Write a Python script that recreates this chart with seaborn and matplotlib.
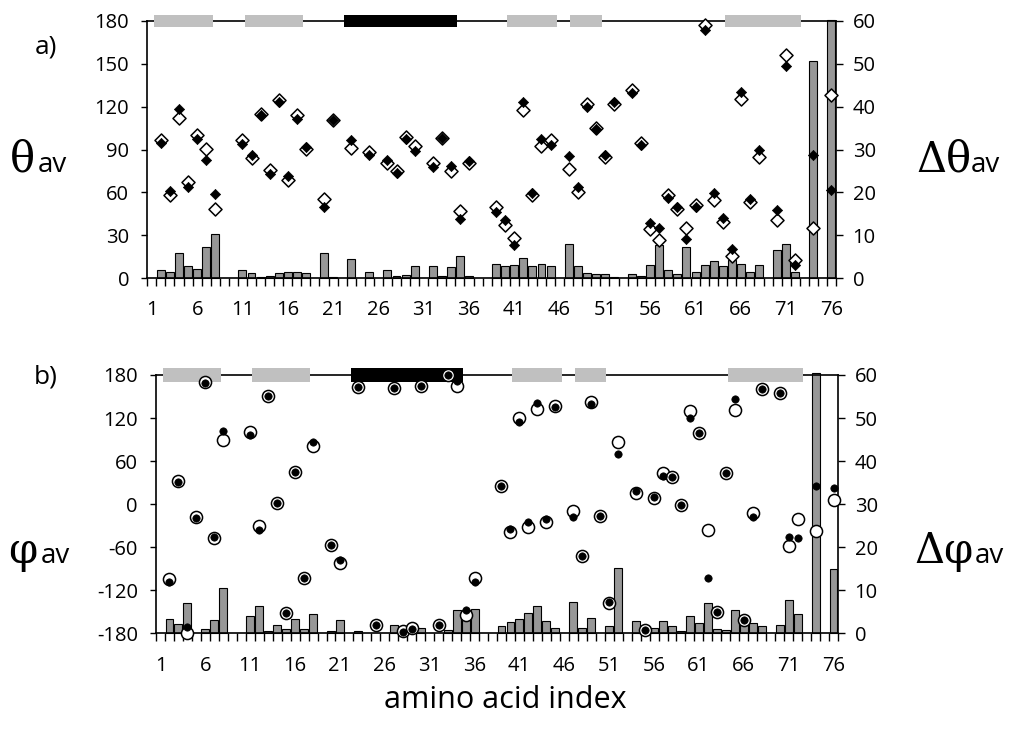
import numpy as np
import pandas as pd
import matplotlib
matplotlib.use("Agg")
import matplotlib.pyplot as plt
import seaborn as sns

nan = np.nan

# ---------------- data ----------------
residues = list(range(1, 77))

theta_open = [nan, 96.9, 58.4, 112.3, 67.2, 99.9, 90.6, 48.6, nan, nan,
              96.4, 83.8, 115.1, 75.4, 124.4, 68.4, 114.4, 90.1, nan, 55.6,
              110.9, nan, 91.3, nan, 88.3, nan, 80.5, 74.7, 98.8, 92.2,
              nan, 80.5, 97.8, 74.9, 46.7, 80.8, nan, nan, 49.7, 37.4,
              28.3, 117.9, 57.9, 92.5, 96.9, nan, 76.6, 60.2, 121.6, 105.0,
              84.8, 121.6, nan, 131.4, 94.6, 34.6, 26.9, 57.9, 48.6, 35.3,
              51.4, 177.4, 54.9, 39.2, 15.2, 125.6, 53.2, 84.8, nan, 40.9,
              156.0, 12.4, nan, 35.0, nan, 128.0]

theta_filled = [nan, 94.6, 61.0, 118.4, 63.7, 97.6, 82.9, 59.1, nan, nan,
                93.6, 85.9, 114.4, 73.1, 123.3, 71.2, 111.6, 91.8, nan, 49.5,
                110.4, nan, 96.4, nan, 85.9, nan, 82.9, 73.5, 97.6, 88.7,
                nan, 77.7, 97.8, 78.4, 41.6, 82.0, nan, nan, 46.2, 40.9,
                23.3, 123.3, 59.5, 97.6, 93.4, nan, 85.2, 63.7, 119.8, 104.1,
                85.9, 123.3, nan, 129.8, 92.9, 38.5, 35.3, 56.0, 49.7, 27.6,
                49.7, 173.9, 59.5, 42.0, 20.1, 130.3, 55.1, 89.4, nan, 47.9,
                148.3, 8.9, nan, 85.9, nan, 61.9]

delta_theta = [nan, 1.8, 1.4, 5.9, 2.8, 2.2, 7.2, 10.35, nan, nan,
               1.8, 1.25, 0.3, 0.5, 1.25, 1.4, 1.4, 1.25, nan, 5.9,
               0.3, nan, 4.4, nan, 1.4, nan, 1.8, 0.5, 0.8, 2.8,
               nan, 2.8, 0.5, 2.5, 5.1, 0.5, nan, nan, 3.3, 2.8,
               3.1, 4.7, 2.8, 3.3, 2.8, nan, 7.9, 2.8, 1.2, 0.9,
               0.9, 0.3, nan, 0.9, 0.5, 3.1, 7.8, 1.9, 0.9, 7.2,
               1.4, 3.1, 4.0, 2.8, 4.1, 3.3, 1.4, 3.1, nan, 6.6,
               7.9, 1.4, nan, 50.6, nan, 60.3]

phi_open = [nan, -104.7, 32.3, -179.1, -17.4, 170.7, -47.6, 89.4, nan, nan,
            101.0, -30.4, 150.7, 1.2, -152.0, 45.3, -102.4, 81.5, nan, -56.9,
            -81.5, nan, 163.7, nan, -168.1, nan, 162.4, -176.7, -173.0, 164.7,
            nan, -168.1, 180.0, 164.7, -154.4, -102.4, nan, nan, 25.8, -38.3,
            119.6, -31.3, 132.6, -25.3, 136.8, nan, -9.5, -71.7, 142.8, -15.9,
            -138.1, 87.1, nan, 16.0, -175.4, 8.1, 44.0, 38.3, -1.1, 129.8,
            98.7, -36.0, -150.5, 44.0, 131.2, -161.1, -12.7, 160.0, nan, 155.4,
            -58.3, -20.6, nan, -37.4, nan, 5.8]

phi_filled = [nan, -108.9, 30.5, -170.7, -18.8, 169.3, -46.2, 102.4, nan, nan,
              96.4, -36.0, 150.7, 1.2, -152.0, 45.3, -102.4, 87.1, nan, -56.9,
              -77.8, nan, 163.7, nan, -168.1, nan, 162.4, -177.7, -174.4, 164.7,
              nan, -168.1, 180.0, 172.0, -147.0, -108.9, nan, nan, 25.8, -34.6,
              114.0, -25.3, 140.5, -20.6, 134.9, nan, -17.4, -71.7, 139.1, -15.9,
              -136.8, 69.9, nan, 18.8, -175.4, 9.5, 39.7, 38.3, -1.1, 119.6,
              98.7, -103.4, -150.5, 44.0, 146.5, -161.1, -17.4, 160.0, nan, 155.4,
              -45.3, -47.6, nan, 25.3, nan, 23.0]

delta_phi = [nan, 3.25, 2.2, 7.0, nan, 0.9, 3.1, 10.45, nan, nan,
             4.1, 6.35, 0.6, 1.9, 1.0, 3.25, 1.0, 4.5, nan, 0.6,
             3.1, nan, 0.6, nan, nan, nan, 1.9, nan, nan, 1.3,
             nan, nan, 0.8, 5.4, 4.3, 5.65, nan, nan, 1.7, 2.55,
             3.25, 4.8, 6.35, 2.9, 1.3, nan, 7.35, 1.3, 3.5, nan,
             1.7, 15.25, nan, 2.9, 1.2, 1.3, 2.9, 1.7, 0.6, 4.1,
             2.3, 7.0, 0.9, 0.8, 5.4, 4.1, 2.3, 1.7, nan, 1.9,
             7.7, 4.4, nan, 60.5, nan, 14.9]

# secondary structure (residue ranges)
strand_ranges = [(1.25, 7.7), (11.25, 17.7), (40.2, 45.7), (47.2, 50.7), (64.2, 72.6)]
helix_ranges = [(22.25, 34.7)]

xtick_labels = [1, 6, 11, 16, 21, 26, 31, 36, 41, 46, 51, 56, 61, 66, 71, 76]
theta_ticks = [0, 30, 60, 90, 120, 150, 180]
phi_ticks = [-180, -120, -60, 0, 60, 120, 180]
delta_ticks = [0, 10, 20, 30, 40, 50, 60]

# ---------------- style ----------------
sns.set_theme(style="white")
plt.rcParams["font.family"] = ["Open Sans", "DejaVu Sans"]
plt.rcParams.update({"text.color": "black", "xtick.color": "black",
                     "ytick.color": "black", "axes.labelcolor": "black",
                     "axes.unicode_minus": False})
TICKFS = 14.5
BAR = "#979797"
STRAND = "#c0c0c0"

W, H = 1009, 731
fig = plt.figure(figsize=(W / 100, H / 100), dpi=100)
fig.patch.set_facecolor("white")

axA = fig.add_axes([147.3 / W, 1 - 278 / H, (836 - 147.3) / W, (278 - 21) / H])
axB = fig.add_axes([156 / W, 1 - 633.3 / H, (838 - 156) / W, (633.3 - 375) / H])


def draw_panel(ax, open_vals, filled_vals, delta, ylim, yticks, marker,
               s_open, s_filled, ss_band):
    ax2 = ax.twinx()
    dfb = pd.DataFrame({"residue": residues, "delta": delta}).dropna()
    sns.barplot(data=dfb, x="residue", y="delta", native_scale=True, width=0.88,
                color=BAR, saturation=1, edgecolor="black", linewidth=0.8,
                errorbar=None, ax=ax2)
    for p in ax2.patches:
        p.set_clip_on(False)
    ax2.set_ylim(0, 60)
    ax2.set_yticks(delta_ticks)
    ax2.set_ylabel("")
    ax2.set_xlabel("")

    dfm = pd.DataFrame({"residue": residues, "open": open_vals, "filled": filled_vals})
    sns.scatterplot(data=dfm, x="residue", y="open", marker=marker, s=s_open,
                    color="white", edgecolor="black", linewidth=1.1, ax=ax,
                    zorder=5, clip_on=False, legend=False)
    sns.scatterplot(data=dfm, x="residue", y="filled", marker=marker, s=s_filled,
                    color="black", edgecolor="black", linewidth=0.5, ax=ax,
                    zorder=6, clip_on=False, legend=False)

    # secondary-structure diagram along the top
    ymin, hgt = ss_band
    ax.broken_barh([(a, b - a) for a, b in strand_ranges], (ymin, hgt),
                   facecolors=STRAND, edgecolor="none", clip_on=False, zorder=4)
    ax.broken_barh([(a, b - a) for a, b in helix_ranges], (ymin, hgt),
                   facecolors="black", edgecolor="none", clip_on=False, zorder=4)

    ax.set_zorder(ax2.get_zorder() + 1)
    ax.patch.set_visible(False)

    ax.set_ylim(*ylim)
    ax.set_yticks(yticks)
    ax.set_xlim(0.5, 76.5)
    ax.set_xticks(np.arange(0.5, 77, 1.0))
    ax.set_xticklabels([])
    ax.set_xticks(xtick_labels, minor=True)
    ax.set_xticklabels([str(v) for v in xtick_labels], minor=True)
    ax.set_xlabel("")
    ax.set_ylabel("")

    ax.tick_params(axis="x", which="major", direction="out", length=5.5,
                   width=1, color="black", bottom=True)
    ax.tick_params(axis="x", which="minor", length=0, pad=16,
                   labelsize=TICKFS, bottom=True, labelcolor="black")
    ax.tick_params(axis="y", direction="out", length=4, width=1, pad=9,
                   labelsize=TICKFS, left=True, colors="black")
    ax2.tick_params(axis="y", direction="out", length=5, width=1, pad=7,
                    labelsize=TICKFS, right=True, colors="black")

    for name, sp in ax.spines.items():
        sp.set_color("black")
        sp.set_linewidth(1.2)
    ax.spines["right"].set_visible(False)
    for name, sp in ax2.spines.items():
        sp.set_visible(name == "right")
        sp.set_color("black")
        sp.set_linewidth(1.2)
    return ax2


draw_panel(axA, theta_open, theta_filled, delta_theta, (0, 180), theta_ticks,
           "D", 44, 27, (175.5, 8.7))
draw_panel(axB, phi_open, phi_filled, delta_phi, (-180, 180), phi_ticks,
           "o", 76, 28, (170.7, 18.6))

# ---------------- labels ----------------
serif = ["DejaVu Serif"]
fig.text(46 / W, 1 - 47 / H, "a)", fontsize=19, ha="center", va="center")
fig.text(46 / W, 1 - 377 / H, "b)", fontsize=19, ha="center", va="center")

fig.text(10 / W, 1 - 172 / H, "\u03b8", fontsize=30, family=serif, ha="left", va="baseline")
fig.text(38 / W, 1 - 172 / H, "av", fontsize=20, ha="left", va="baseline")
fig.text(8 / W, 1 - 563 / H, "\u03c6", fontsize=30, family=serif, ha="left", va="baseline")
fig.text(41 / W, 1 - 563 / H, "av", fontsize=20, ha="left", va="baseline")

fig.text(916 / W, 1 - 172 / H, "\u0394\u03b8", fontsize=30, family=serif, ha="left", va="baseline")
fig.text(971 / W, 1 - 172 / H, "av", fontsize=20, ha="left", va="baseline")
fig.text(914 / W, 1 - 563 / H, "\u0394\u03c6", fontsize=30, family=serif, ha="left", va="baseline")
fig.text(975 / W, 1 - 563 / H, "av", fontsize=20, ha="left", va="baseline")

fig.text(505 / W, 1 - 700 / H, "amino acid index", fontsize=22, ha="center", va="center")

fig.savefig("out.png", dpi=100, facecolor="white")
